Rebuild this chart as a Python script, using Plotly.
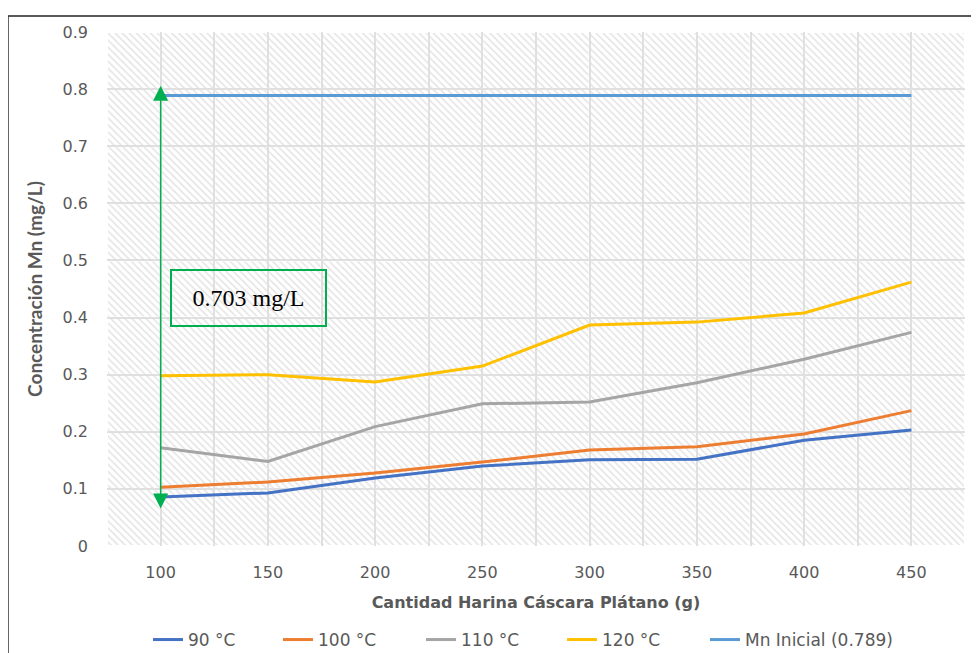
import plotly.graph_objects as go

cantidad = [100, 150, 200, 250, 300, 350, 400, 450]
s90 = [0.086, 0.093, 0.119, 0.140, 0.151, 0.152, 0.185, 0.203]
s100 = [0.103, 0.112, 0.128, 0.147, 0.168, 0.174, 0.196, 0.237]
s110 = [0.172, 0.148, 0.209, 0.249, 0.252, 0.286, 0.327, 0.374]
s120 = [0.298, 0.300, 0.287, 0.315, 0.387, 0.392, 0.408, 0.462]
mn_inicial = [0.789] * 8

series_names = ["90 °C", "100 °C", "110 °C", "120 °C", "Mn Inicial (0.789)"]
series_colors = ["#4472C4", "#ED7D31", "#A5A5A5", "#FFC000", "#5B9BD5"]
y_ticks = [0, 0.1, 0.2, 0.3, 0.4, 0.5, 0.6, 0.7, 0.8, 0.9]
removal_label = "0.703 mg/L"
arrow_bottom, arrow_top = 0.063, 0.806

x_lo, x_hi = 75, 475
y_lo, y_hi = 0, 0.9

# plot area in page pixels (body has 8px margin)
W, H = 979, 653
PAD = 8
plot_l, plot_r, plot_t, plot_b = 107, 965, 32, 546
m_l = plot_l - PAD
m_t = plot_t - PAD
m_r = W - (plot_r - PAD)
m_b = H - (plot_b - PAD)
pw, ph = plot_r - plot_l, plot_b - plot_t

# legend entry left positions (page px)
legend_left = [158, 288, 431, 572, 715]
legend_mid_y = 640

fig = go.Figure()

# hatched plot-area background, split into grid cells so the gridlines stay visible
dx_px = (x_hi - x_lo) / pw
dy_px = (y_hi - y_lo) / ph
xb = [x_lo + 25 * i for i in range(17)]
yb = [round(y_lo + 0.1 * j, 2) for j in range(10)]
hx, hy = [], []
for i in range(len(xb) - 1):
    for j in range(len(yb) - 1):
        a, b = xb[i] + dx_px, xb[i + 1] - dx_px
        c, d = yb[j] + dy_px, yb[j + 1] - dy_px
        hx += [a, b, b, a, a, None]
        hy += [c, c, d, d, c, None]
fig.add_trace(go.Scatter(
    x=hx, y=hy, mode="lines", line=dict(width=0), fill="toself",
    fillcolor="rgba(255,255,255,0)",
    fillpattern=dict(shape="\\", fgcolor="#c8c8c8", bgcolor="rgba(255,255,255,0)",
                     size=5, solidity=0.3),
    hoverinfo="skip", showlegend=False))

legend_layout = {}
for k, (name, vals, col) in enumerate(zip(series_names, [s90, s100, s110, s120, mn_inicial],
                                          series_colors)):
    lg = "legend" if k == 0 else "legend%d" % (k + 1)
    fig.add_trace(go.Scatter(x=cantidad, y=vals, name=name, mode="lines",
                             line=dict(color=col, width=3), legend=lg))
    legend_layout[lg] = dict(orientation="h", xref="container", yref="container",
                             x=(legend_left[k] - PAD - 10) / W, xanchor="left",
                             y=1 - (legend_mid_y - PAD) / H, yanchor="middle",
                             font=dict(family="DejaVu Sans", size=17, color="#595959"),
                             bgcolor="rgba(0,0,0,0)")

# double arrow
fig.add_annotation(x=cantidad[0], y=arrow_top, ax=cantidad[0], ay=arrow_bottom,
                   xref="x", yref="y", axref="x", ayref="y", text="",
                   showarrow=True, arrowhead=2, startarrowhead=2, arrowside="end+start",
                   arrowsize=2, startarrowsize=2, arrowwidth=1.5, arrowcolor="#00B050",
                   standoff=0, startstandoff=0)

fig.add_annotation(x=141, y=0.434, xref="x", yref="y", text=removal_label, showarrow=False,
                   font=dict(family="Liberation Serif", size=24, color="#000000"),
                   bordercolor="#00B050", borderwidth=2, borderpad=1,
                   width=151, height=52, align="center", valign="middle",
                   xanchor="center", yanchor="middle")

# outer frame (top and left edges)
fx = (PAD - plot_l) / pw
fy = (plot_b - 16) / ph
fig.add_shape(type="line", xref="paper", yref="paper", x0=fx, x1=1.2, y0=fy, y1=fy,
              line=dict(color="#595959", width=2))
fig.add_shape(type="line", xref="paper", yref="paper", x0=fx, x1=fx, y0=-0.4, y1=fy,
              line=dict(color="#333333", width=1.5))

tick_font = dict(family="DejaVu Sans", size=16, color="#595959")
grid_col = "#e0e0e0"

fig.update_xaxes(range=[x_lo, x_hi], tickmode="array", tickvals=cantidad,
                 ticktext=[str(c) for c in cantidad], tickfont=tick_font,
                 showgrid=True, gridcolor=grid_col, gridwidth=2, zeroline=False,
                 showline=False, ticks="", ticklabelstandoff=15, automargin=False,
                 minor=dict(tickvals=[x_lo + 50 * i for i in range(9)], showgrid=True,
                            gridcolor=grid_col, gridwidth=2),
                 title=dict(text="Cantidad Harina Cáscara Plátano (g)",
                            font=dict(family="DejaVu Sans", size=16, color="#595959", weight="bold"),
                            standoff=15))
fig.update_yaxes(range=[y_lo, y_hi], tickmode="array", tickvals=y_ticks,
                 ticktext=[("%g" % v) for v in y_ticks], tickfont=tick_font,
                 showgrid=True, gridcolor=grid_col, gridwidth=2, zeroline=False,
                 showline=False, ticks="", ticklabelstandoff=18, automargin=False,
                 title=dict(text="Concentración Mn (mg/L)",
                            font=dict(family="Lato", size=19, color="#595959", weight="bold"),
                            standoff=14))

fig.update_layout(
    width=W, height=H,
    margin=dict(l=m_l, r=m_r, t=m_t, b=m_b, autoexpand=False),
    paper_bgcolor="white", plot_bgcolor="white",
    showlegend=True,
    hovermode=False,
    **legend_layout,
)

fig.write_html("out.html")
